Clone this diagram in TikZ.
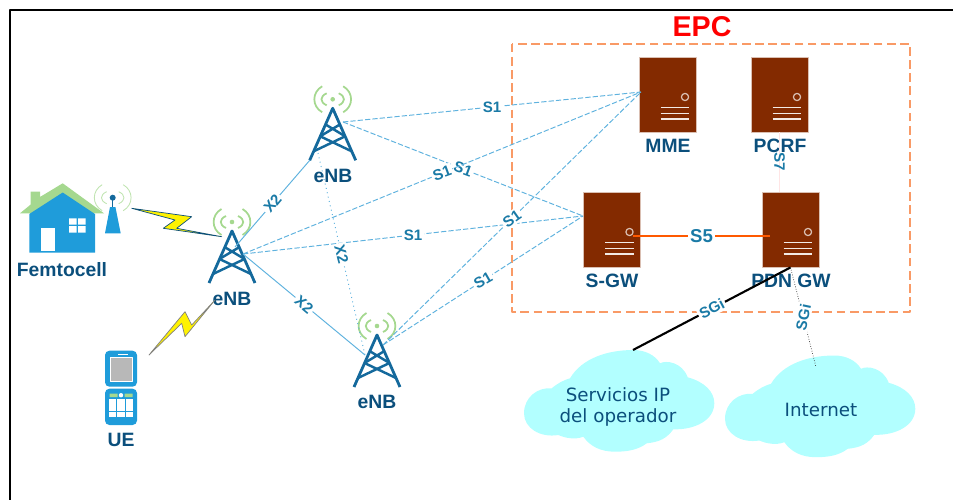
\documentclass[tikz,border=0pt]{standalone}
\usepackage{fontspec}
\setmainfont{Liberation Sans}
\newfontfamily\cloudfont{DejaVu Sans}
\definecolor{towerblue}{HTML}{14699C}
\definecolor{namecol}{HTML}{0B4F7C}
\definecolor{linkcol}{HTML}{5FB2DE}
\definecolor{tagcol}{HTML}{1A7AA6}
\definecolor{wavecol}{HTML}{A5D88F}
\definecolor{servercol}{HTML}{832A00}
\definecolor{housecol}{HTML}{1F9CDA}
\definecolor{cloudcol}{HTML}{B2FFFF}
\definecolor{epccol}{HTML}{F99A66}
\tikzset{
	namelbl/.style={font=\fontsize{11}{12}\selectfont\bfseries,text=namecol,inner sep=0pt},
	taglbl/.style={font=\fontsize{8.6}{10}\selectfont\bfseries,text=tagcol,fill=white,inner sep=1pt},
	cloudlbl/.style={font=\cloudfont\fontsize{10.4}{12}\selectfont,text=namecol,align=center,inner sep=0pt},
	serverbox/.style={fill=servercol,draw=servercol!30!white,line width=0.5pt,minimum width=1.14cm,minimum height=1.5cm,inner sep=0pt},
	s1link/.style={draw=linkcol,line width=0.55pt,dash pattern=on 3pt off 1.2pt},
	x2link/.style={draw=linkcol,line width=0.55pt},
	pics/tower/.style={code={
		\draw[towerblue,line width=1.6pt,line join=round] (-23,61)--(0,9)--(23,61);
		\draw[towerblue,line width=1.4pt] (-7.5,25)--(12.5,37) (7.5,25)--(-12.5,37) (-12.5,37)--(19,52) (12.5,37)--(-19,52);
		\fill[wavecol] (0,0) circle (2.3);
		\draw[wavecol,line width=1pt] (-6,-6).. controls (-13,-3) and (-13,3) .. (-6,6);
		\draw[wavecol,line width=1pt] (6,-6).. controls (13,-3) and (13,3) .. (6,6);
		\draw[wavecol,line width=1pt] (-10.5,-13).. controls (-21,-7) and (-21,7) .. (-10.5,13);
		\draw[wavecol,line width=1pt] (10.5,-13).. controls (21,-7) and (21,7) .. (10.5,13);
	}},
	pics/serverdeco/.style={code={
		\draw[white!70!servercol,line width=0.7pt] (17.5,2.5) circle (3.6);
		\draw[white!90!servercol,line width=0.9pt] (-7,13)--(21.5,13) (-7,19)--(21.5,19) (-7,24.5)--(21.5,24.5);
	}},
	pics/cloudshape/.style={code={
		\fill[cloudcol] (-50,-21.7).. controls (-38,-42) and (-12,-50) .. (13.3,-50)
			.. controls (25,-50) and (35,-45) .. (40,-36.7)
			.. controls (46,-40) and (62,-38) .. (67.7,-22.7)
			.. controls (85,-18) and (94.3,-8) .. (94.3,3.3)
			.. controls (94.3,20) and (75,30) .. (53.3,29.3)
			.. controls (47,38) and (40,42) .. (26.7,43.3)
			.. controls (18,50) and (7,51.7) .. (-5,51.7)
			.. controls (-20,51.7) and (-30,46) .. (-36.7,36.7)
			.. controls (-45,40) and (-55,38) .. (-61.7,35)
			.. controls (-80,38) and (-96,28) .. (-96,13.3)
			.. controls (-96,-3) and (-82,-13) .. (-68.3,-11.7)
			.. controls (-62,-17) and (-56,-20) .. (-50,-21.7) -- cycle;
	}}
}
\begin{document}
\begin{tikzpicture}[x=0.02cm,y=-0.02cm,line join=round]
	\useasboundingbox (0,0) rectangle (953,500);
	\draw[black,line width=1.1pt] (10,500)--(10,10)--(953,10);
	% EPC
	\draw[epccol,line width=1.1pt,dash pattern=on 5pt off 2.5pt] (511.7,43.7) rectangle (910,311.7);
	\node[font=\fontsize{16.3}{18}\selectfont\bfseries,text=red,inner sep=0pt] (epc) at (702,27) {EPC};
	% clouds
	\pic at (620,400) {cloudshape};
	\pic at (821,405.5) {cloudshape};
	\node[cloudlbl] (opcloud) at (618,407) {Servicios IP\\del operador};
	\node[cloudlbl] (netcloud) at (821,410) {Internet};
	\coordinate (opcloudtop) at (633,350);
	\coordinate (netcloudtop) at (816,367);
	% servers
	\node[serverbox] (mme) at (667.5,94.5) {};
	\node[serverbox] (pcrf) at (779.5,94.5) {};
	\node[serverbox] (sgw) at (612,229.5) {};
	\node[serverbox] (pdn) at (790.5,229.5) {};
	\pic at (mme) {serverdeco};
	\pic at (pcrf) {serverdeco};
	\pic at (sgw) {serverdeco};
	\pic at (pdn) {serverdeco};
	\node[namelbl] (mmename) at (668,146) {MME};
	\node[namelbl] (pcrfname) at (780,146) {PCRF};
	\node[namelbl] (sgwname) at (612,281) {S-GW};
	\node[namelbl] (pdnname) at (791,281) {PDN GW};
	\coordinate (mmeport) at (641,92);
	\coordinate (sgwport) at (583,216);
	\coordinate (sgwline) at (633,236);
	\coordinate (pdnline) at (770,236);
	% towers
	\pic at (332.7,99.3) {tower};
	\pic at (232,222) {tower};
	\pic at (377,326) {tower};
	\node[namelbl] (enbAname) at (333,176) {eNB};
	\node[namelbl] (enbBname) at (232,299) {eNB};
	\node[namelbl] (enbCname) at (377,402) {eNB};
	\coordinate (enbAhub) at (343,122);
	\coordinate (enbAfoot) at (310,160);
	\coordinate (enbAleg) at (318,153);
	\coordinate (enbBhub) at (243,254);
	\coordinate (enbBtop) at (235,247);
	\coordinate (enbChub) at (383,345);
	\coordinate (enbCleg) at (365,355);
	% links
	\draw[s1link] (enbAhub)--(mmeport) node[midway,taglbl] (sa) {S1};
	\draw[s1link] (enbAhub)--(sgwport) node[midway,taglbl,rotate=-20] (sb) {S1};
	\draw[s1link] (enbBhub)--(mmeport) node[midway,taglbl,rotate=20] (sc) {S1};
	\draw[s1link] (enbBhub)--(sgwport) node[midway,taglbl] (sd) {S1};
	\draw[s1link] (enbChub)--(mmeport) node[midway,taglbl,rotate=35] (se) {S1};
	\draw[s1link] (enbChub)--(sgwport) node[midway,taglbl,rotate=30] (sf) {S1};
	\draw[x2link] (enbBtop)--(enbAfoot) node[midway,taglbl,rotate=50] (xa) {X2};
	\draw[x2link] (enbBhub)--(enbCleg) node[midway,taglbl,rotate=-40] (xb) {X2};
	\draw[x2link,dotted] (enbAleg)--(enbCleg) node[midway,taglbl,rotate=-75] (xc) {X2};
	\draw[red!10!white,line width=0.5pt] (pcrf.south)--(pcrf.south |- pdn.north) node[midway,taglbl,rotate=-90,fill=none] (sg) {S7};
	\draw[orange!70!red,line width=1.7pt] (sgwline)--(pdnline) node[midway,taglbl,font=\fontsize{10.6}{12}\selectfont\bfseries] (sh) {S5};
	\draw[black,line width=1.2pt] (pdn.south)--(opcloudtop) node[midway,taglbl,rotate=28] (si) {SGi};
	\draw[black!80,line width=0.4pt,densely dotted] (pdn.south)--(netcloudtop) node[midway,taglbl,rotate=78] (sj) {SGi};
	% femtocell
	\fill[wavecol] (20,213.3)--(30.7,204.5)--(30.7,191.7)--(40,191.7)--(40,197)--(62.7,183.3)--(104,213.3)--cycle;
	\fill[housecol] (29.3,252.7)--(29.3,214)--(62.7,192.5)--(95,214)--(95,252.7)--cycle;
	\fill[white] (41,228.3) rectangle (55,251);
	\fill[white] (69,218.3) rectangle (76.6,224.7) (78,218.3) rectangle (85.7,224.7) (69,226.2) rectangle (76.6,232.7) (78,226.2) rectangle (85.7,232.7);
	\fill[housecol] (110,207)--(115.4,207)--(120.7,233.3)--(105,233.3)--cycle;
	\draw[towerblue,line width=0.8pt] (112.7,197.7)--(112.7,207);
	\fill[towerblue] (112.7,197.7) circle (3);
	\begin{scope}[shift={(112.7,197.7)}]
		\draw[wavecol!70!white,line width=0.5pt] (-6,-6).. controls (-13,-3) and (-13,3) .. (-6,6);
		\draw[wavecol!70!white,line width=0.5pt] (6,-6).. controls (13,-3) and (13,3) .. (6,6);
		\draw[wavecol!70!white,line width=0.5pt] (-10.5,-13).. controls (-21,-7) and (-21,7) .. (-10.5,13);
		\draw[wavecol!70!white,line width=0.5pt] (10.5,-13).. controls (21,-7) and (21,7) .. (10.5,13);
	\end{scope}
	\node[namelbl] (femtoname) at (62,270) {Femtocell};
	% bolts
	\draw[namecol,line width=0.4pt,fill=yellow] (131.7,208.3)--(191.7,216.7)--(176.7,228.3)--(221.7,236.7)--(163.3,228.3)--(175,220)--cycle;
	\draw[black!50,line width=0.4pt,fill=yellow] (149,355)--(185,311.7)--(191.7,325)--(215,300)--(185,336.7)--(181.7,323.3)--cycle;
	% phone
	\fill[housecol,rounded corners=2.5pt] (105,350.7) rectangle (137,386.7);
	\fill[housecol,rounded corners=2.5pt] (105,388.7) rectangle (137,425);
	\fill[white] (118,353.6) rectangle (128,355);
	\draw[white,fill=black!28,line width=0.5pt] (110,357.7) rectangle (132.3,381.7);
	\fill[wavecol] (109.5,393.5) rectangle (117.5,397) (124.5,393.5) rectangle (132.5,397);
	\fill[white] (121,395.2) circle (2.2);
	\foreach \kx in {109,117.4,125.7}
		\foreach \ky in {399,405.4,411.8}
			{\fill[white] (\kx,\ky) rectangle +(7.4,5.5);}
	\node[namelbl] (uename) at (121,440) {UE};
\end{tikzpicture}
\end{document}
